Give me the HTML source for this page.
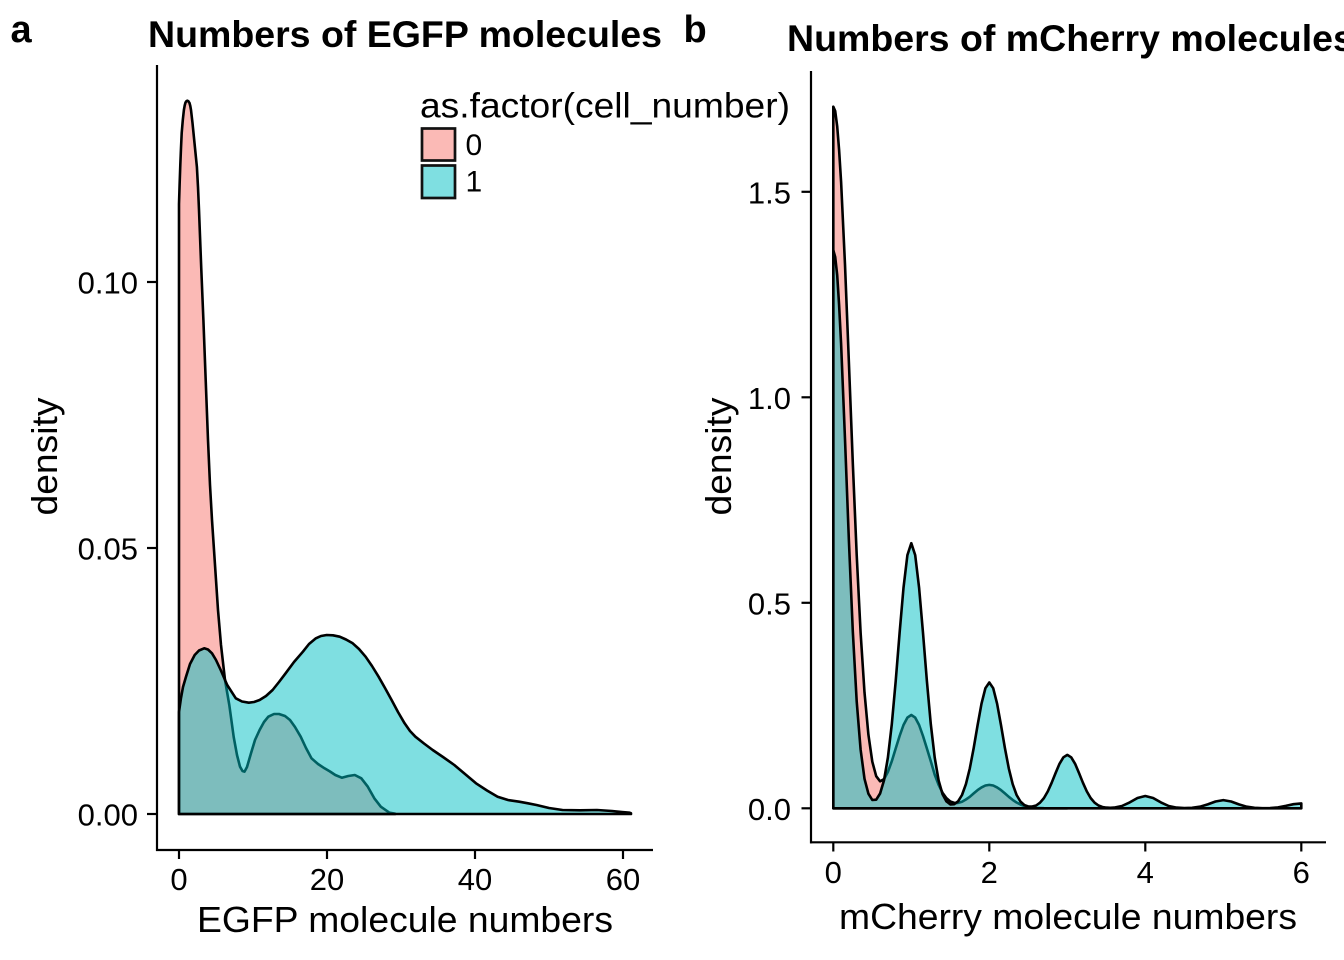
<!DOCTYPE html>
<html><head><meta charset="utf-8"><style>html,body{margin:0;padding:0;background:#fff}svg{display:block}</style></head>
<body>
<svg width="1344" height="960" viewBox="0 0 1344 960" xmlns="http://www.w3.org/2000/svg" font-family="'Liberation Sans', Arial, Helvetica, sans-serif">
<rect width="1344" height="960" fill="#fff"/>

<!-- ===== Panel a ===== -->
<text x="10.5" y="42" font-size="38" font-weight="bold">a</text>
<text x="148" y="47" font-size="37" font-weight="bold" textLength="514" lengthAdjust="spacingAndGlyphs">Numbers of EGFP molecules</text>

<!-- pink (cell 0) -->
<path fill="#F8766D" fill-opacity="0.5" stroke="#000" stroke-width="2.6" stroke-linejoin="round"
d="M179,814 L179,204 L179.6,185 L180.3,165 L181,148 L181.7,133 L182.8,120 L183.9,110 L184.7,105.5 L185.5,102.5 L186.4,101.2 L187.4,100.7 L188.4,101.3 L189.5,103 L190.3,106 L191,110 L192.5,123 L194.5,143 L196.9,167 L198,187 L199,210 L201.2,267 L203.4,320 L205.5,375 L208,440 L210,485 L212,520 L215,565 L218,610 L221,645 L225,680 L229.3,705 L233.7,737 L237,755 L240,766.7 L242.5,771 L244.5,771.7 L247,767 L251,753.3 L255,740 L259.6,730 L264,722 L268.3,716.7 L274,714 L279,714 L285,716 L290,720 L295,727 L300.7,736.7 L306,748 L311.5,758.3 L318,764 L324.5,768.3 L330,771.5 L335.3,775 L341.8,777.7 L348.3,776 L354.8,775 L361.3,778.3 L367.8,786.7 L374.3,798.3 L380.8,806.7 L389.4,812.7 L395,813.7 L395,814 Z"/>
<!-- cyan (cell 1) -->
<path fill="#00BFC4" fill-opacity="0.5" stroke="#000" stroke-width="2.6" stroke-linejoin="round"
d="M179,814 L179,712 L181,698 L183,687 L186,676.7 L190,664 L194.7,655 L199,650.5 L204.2,648.3 L208,649.5 L212,653.3 L216,660 L220.7,670 L227.2,685 L235.8,698.3 L242,701.5 L248.8,702.7 L254,702 L259.6,700 L266,696 L272.6,690 L279,682 L285.6,673.3 L294,662 L302.9,651.7 L309,644 L315.9,638.3 L321,636 L326.7,635 L333,635.3 L339.7,636.7 L346,639.5 L352.7,643.3 L359,649 L365.6,656.7 L372,666 L378.6,676.7 L385,688 L391.6,700 L398,712 L404.6,723.3 L410,731 L415.4,736.7 L424,743.5 L432.7,750 L443,757 L454.3,765 L465,774 L476,783.3 L487,790.5 L497.6,796.7 L508,800 L519.2,801.7 L528,803.3 L536.5,805 L549,808 L562.5,810 L580,810.3 L597,810 L612,811 L622,812 L629.6,812.7 L631,813.2 L631,814 Z"/>

<!-- axes a -->
<g stroke="#000" stroke-width="2.2" fill="none">
<line x1="157" y1="65" x2="157" y2="851"/>
<line x1="156" y1="850" x2="653" y2="850"/>
<line x1="147" y1="814" x2="157" y2="814"/>
<line x1="147" y1="548" x2="157" y2="548"/>
<line x1="147" y1="282" x2="157" y2="282"/>
<line x1="179" y1="850" x2="179" y2="859"/>
<line x1="327" y1="850" x2="327" y2="859"/>
<line x1="475" y1="850" x2="475" y2="859"/>
<line x1="623" y1="850" x2="623" y2="859"/>
</g>
<g font-size="31" fill="#000" text-anchor="end">
<text x="138" y="825.5">0.00</text>
<text x="138" y="559.5">0.05</text>
<text x="138" y="293.5">0.10</text>
</g>
<g font-size="31" fill="#000" text-anchor="middle">
<text x="179" y="890">0</text>
<text x="327" y="890">20</text>
<text x="475" y="890">40</text>
<text x="623" y="890">60</text>
</g>
<text x="405" y="932" font-size="36" text-anchor="middle" textLength="416" lengthAdjust="spacingAndGlyphs">EGFP molecule numbers</text>
<text transform="translate(57,456.5) rotate(-90)" font-size="36" text-anchor="middle" textLength="118" lengthAdjust="spacingAndGlyphs">density</text>

<!-- legend -->
<text x="420" y="117.5" font-size="35" textLength="370" lengthAdjust="spacingAndGlyphs">as.factor(cell_number)</text>
<rect x="422" y="128.5" width="33" height="32" fill="#F8766D" fill-opacity="0.5" stroke="#111" stroke-width="2.7"/>
<rect x="422" y="165.5" width="33" height="32.5" fill="#00BFC4" fill-opacity="0.5" stroke="#111" stroke-width="2.7"/>
<text x="465.5" y="155" font-size="30">0</text>
<text x="465.5" y="191.7" font-size="30">1</text>

<!-- ===== Panel b ===== -->
<text x="683.5" y="42" font-size="38" font-weight="bold">b</text>
<text x="787" y="51" font-size="37.5" font-weight="bold">Numbers of mCherry molecules</text>

<path fill="#F8766D" fill-opacity="0.5" stroke="#000" stroke-width="2.6" stroke-linejoin="round"
d="M833.3,808.3 L833.3,106.7 L835.2,111 L837.2,126.4 L839.1,150 L841.1,181.9 L845,264.7 L848.9,362.5 L852.8,462.9 L856.7,555 L860.6,632.6 L864.5,692.4 L868.4,734.6 L872.3,761.7 L876.2,776.2 L880.1,781.3 L884,779.2 L887.9,771.9 L891.8,761.2 L895.7,748.5 L899.6,736 L903.5,725 L907.4,717.6 L911.3,715 L915.2,717.6 L919.1,725 L923,736 L926.9,748.5 L930.8,761.2 L934.7,774.6 L938.6,784.8 L942.5,792.7 L946.4,798.1 L950.3,801.5 L954.2,802.9 L958.1,802.9 L962,801.7 L965.9,799.5 L969.8,796.8 L973.7,793.4 L977.6,790.1 L981.5,787.4 L985.4,785.5 L989.3,784.9 L993.2,785.5 L997.1,787.4 L1001,790.1 L1004.9,793.4 L1008.8,796.8 L1012.7,799.9 L1016.6,802.5 L1020.5,804.5 L1024.4,806 L1028.3,806.9 L1036.1,807.9 L1043.9,808.2 L1067.3,808.3 Z"/>
<path fill="#00BFC4" fill-opacity="0.5" stroke="#000" stroke-width="2.6" stroke-linejoin="round"
d="M833.3,808.3 L833.3,250.2 L835.2,257 L837.2,275.2 L839.1,305 L841.1,343.9 L845,439.2 L848.9,540.7 L852.8,631.2 L856.7,701.4 L860.6,749.5 L864.5,778.8 L868.4,793.7 L872.3,800 L876.2,799.7 L880.1,793.5 L884,780.4 L887.9,757.5 L891.8,724.2 L895.7,681.1 L899.6,632.9 L903.5,587.8 L907.4,555.1 L911.3,543.2 L915.2,555.1 L919.1,587.8 L923,632.9 L926.9,681.1 L930.8,724.2 L934.7,757.5 L938.6,780.4 L942.5,794.1 L946.4,801.4 L950.3,804.4 L954.2,804.2 L958.1,801.3 L962,795 L965.9,784.2 L969.8,768.4 L973.7,748 L977.6,725.1 L981.5,703.7 L985.4,688.2 L989.3,682.5 L993.2,688.2 L997.1,703.7 L1001,725.1 L1004.9,748 L1008.8,768.4 L1012.7,784.2 L1016.6,795 L1020.5,801.6 L1024.4,805.1 L1028.3,806.5 L1032.2,806.5 L1036.1,805.5 L1040,802.7 L1043.9,798.1 L1047.8,791.4 L1051.7,782.7 L1055.6,773 L1059.5,763.8 L1063.4,757.3 L1067.3,754.9 L1071.2,757.3 L1075.1,763.8 L1079,773 L1082.9,782.7 L1086.8,791.4 L1090.7,798.1 L1094.6,802.7 L1098.5,805.5 L1102.4,807 L1106.3,807.6 L1110.2,807.8 L1114.1,807.6 L1121.9,806 L1129.7,802.4 L1137.5,798 L1145.3,796 L1153.1,798 L1160.9,802.4 L1168.7,806 L1176.5,807.6 L1184.3,808.1 L1192.1,807.8 L1199.9,806.7 L1207.7,804.4 L1215.5,801.5 L1223.3,800.1 L1231.1,801.5 L1238.9,804.4 L1246.7,806.7 L1254.5,807.8 L1262.3,808.2 L1270.1,808.1 L1277.9,807.4 L1285.7,805.9 L1293.5,804.2 L1301.3,803.4 L1301.3,808.3 Z"/>

<!-- axes b -->
<g stroke="#000" stroke-width="2.2" fill="none">
<line x1="811" y1="71" x2="811" y2="843.4"/>
<line x1="810" y1="842.3" x2="1326" y2="842.3"/>
<line x1="801.5" y1="808.3" x2="811" y2="808.3"/>
<line x1="801.5" y1="602.8" x2="811" y2="602.8"/>
<line x1="801.5" y1="397.3" x2="811" y2="397.3"/>
<line x1="801.5" y1="191.8" x2="811" y2="191.8"/>
<line x1="833.3" y1="842.3" x2="833.3" y2="851.5"/>
<line x1="989.3" y1="842.3" x2="989.3" y2="851.5"/>
<line x1="1145.3" y1="842.3" x2="1145.3" y2="851.5"/>
<line x1="1301.3" y1="842.3" x2="1301.3" y2="851.5"/>
</g>
<g font-size="31" fill="#000" text-anchor="end">
<text x="791" y="819.8">0.0</text>
<text x="791" y="614.3">0.5</text>
<text x="791" y="408.8">1.0</text>
<text x="791" y="203.3">1.5</text>
</g>
<g font-size="31" fill="#000" text-anchor="middle">
<text x="833.3" y="883">0</text>
<text x="989.3" y="883">2</text>
<text x="1145.3" y="883">4</text>
<text x="1301.3" y="883">6</text>
</g>
<text x="1068" y="929" font-size="36" text-anchor="middle" textLength="458" lengthAdjust="spacingAndGlyphs">mCherry molecule numbers</text>
<text transform="translate(731,456.5) rotate(-90)" font-size="36" text-anchor="middle" textLength="118" lengthAdjust="spacingAndGlyphs">density</text>
</svg>
</body></html>
